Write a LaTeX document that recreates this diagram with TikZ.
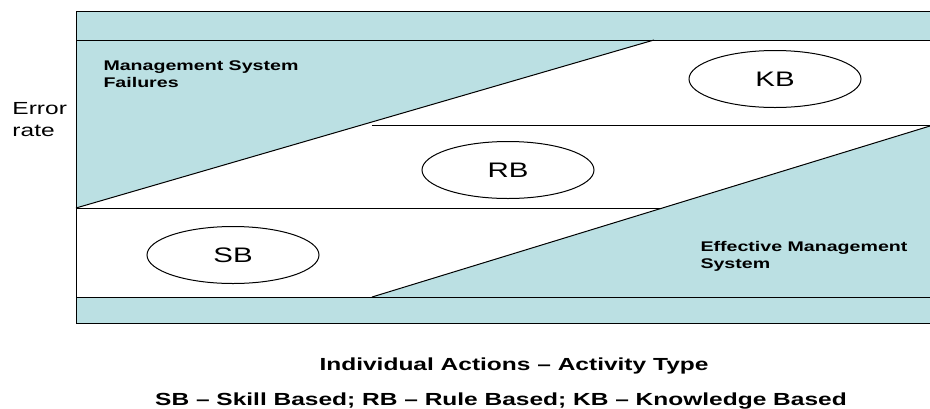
\documentclass[tikz,border=0pt]{standalone}
\usepackage{fontspec}
\setmainfont{Liberation Sans}[FakeStretch=1.4]
\usetikzlibrary{shapes.geometric}
\definecolor{band}{RGB}{187,224,227}

\begin{document}
\begin{tikzpicture}[x=1pt,y=-1pt,line width=1pt,
  mode/.style={ellipse,draw,fill=white,minimum width=172pt,minimum height=57pt,
    inner sep=0pt,font=\fontsize{21}{25}\selectfont},
  zone/.style={anchor=north west,align=left,inner sep=0pt,
    font=\bfseries\fontsize{14}{17}\selectfont},
  caption/.style={anchor=base,inner sep=0pt,font=\bfseries\fontsize{17.5}{21}\selectfont}]
  \useasboundingbox (0,0) rectangle (930,408);
  % shaded bands and the two wedges
  \fill[band] (76,11) rectangle (930,40);
  \fill[band] (76,297) rectangle (930,323);
  \fill[band] (76,40) -- (654,40) -- (76,208) -- cycle;
  \fill[band] (372,297) -- (930,126) -- (930,297) -- cycle;
  % frame and level lines
  \draw (930,11) -- (76,11) -- (76,323) -- (930,323);
  \draw (76,40) -- (930,40);
  \draw (76,297) -- (930,297);
  \draw (76,208) -- (662,208);
  \draw (372,125) -- (930,125);
  \draw (76,208) -- (654,40);
  \draw (372,297) -- (930,126);
  % activity types
  \node[mode] (kb) at (775,79) {KB};
  \node[mode] (rb) at (508,170) {RB};
  \node[mode] (sb) at (233,255) {SB};
  \node[zone] (msf) at (103,60) {Management System\\Failures};
  \node[zone] (ems) at (700,241) {Effective Management\\System};
  % axes
  \node[anchor=north west,align=left,inner sep=0pt,font=\fontsize{17.5}{22}\selectfont]
    (err) at (12,102) {Error\\rate};
  \node[caption] (axis) at (514,370) {Individual Actions – Activity Type};
  \node[caption] (key) at (501,405) {SB – Skill Based; RB – Rule Based; KB – Knowledge Based};
\end{tikzpicture}
\end{document}
